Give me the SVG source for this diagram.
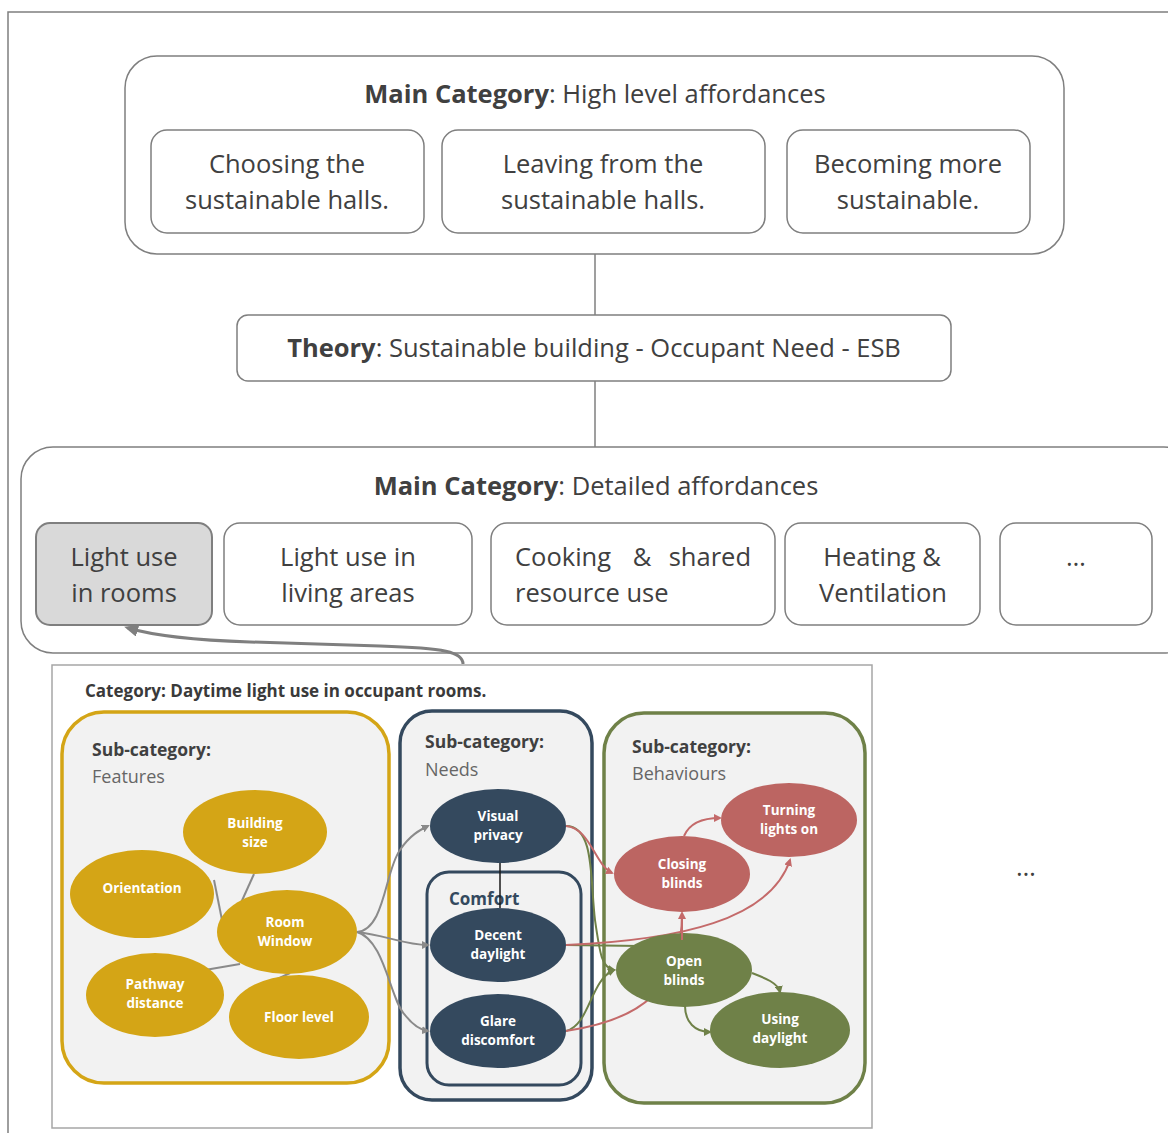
<svg xmlns="http://www.w3.org/2000/svg" width="1168" height="1133" viewBox="0 0 1168 1133">
<defs>
<style>
.box{fill:#fff;stroke:#7f7f7f;stroke-width:1.5}
.t{font-family:"Open Sans","Liberation Sans",sans-serif;font-size:25.5px;fill:#404040}
.tc{text-anchor:middle}
.b{font-weight:bold}
.sub{font-family:"Open Sans","Liberation Sans",sans-serif;font-size:17.5px;fill:#404040;font-weight:bold}
.sub2{font-family:"Open Sans","Liberation Sans",sans-serif;font-size:18px;fill:#666}
.el{font-family:"Open Sans","Liberation Sans",sans-serif;font-size:13.5px;fill:#fff;font-weight:bold;text-anchor:middle}
.gold{fill:#d4a516}
.navy{fill:#34495e}
.red{fill:#bc6562}
.grn{fill:#6f8148}
.gl{stroke:#8a8a8a;stroke-width:2;fill:none}
.rl{stroke:#c46a6a;stroke-width:2;fill:none}
.gnl{stroke:#6f8148;stroke-width:2;fill:none}
</style>
<marker id="ag" markerWidth="8" markerHeight="8" refX="6" refY="4" orient="auto" markerUnits="userSpaceOnUse"><path d="M0,0 L8,4 L0,8 z" fill="#8a8a8a"/></marker>
<marker id="ar" markerWidth="8" markerHeight="8" refX="6" refY="4" orient="auto" markerUnits="userSpaceOnUse"><path d="M0,0 L8,4 L0,8 z" fill="#c46a6a"/></marker>
<marker id="agn" markerWidth="8" markerHeight="8" refX="6" refY="4" orient="auto" markerUnits="userSpaceOnUse"><path d="M0,0 L8,4 L0,8 z" fill="#6f8148"/></marker>
<marker id="abig" markerWidth="14" markerHeight="12" refX="10" refY="6" orient="auto" markerUnits="userSpaceOnUse"><path d="M0,0 L14,6 L0,12 z" fill="#7f7f7f"/></marker>
</defs>
<rect width="1168" height="1133" fill="#fff"/>
<path d="M1168,12 L8,12 L8,1133" fill="none" stroke="#7f7f7f" stroke-width="1.5"/>

<g id="high-level">
<rect class="box" x="125" y="56" width="939" height="198" rx="32"/>
<text class="t tc" x="595" y="103"><tspan class="b">Main Category</tspan>: High level affordances</text>
</g>
<g id="choosing">
<rect class="box" x="151" y="130" width="273" height="103" rx="16"/>
<text class="t tc" x="287" y="173">Choosing the</text>
<text class="t tc" x="287" y="209">sustainable halls.</text>
</g>
<g id="leaving">
<rect class="box" x="442" y="130" width="323" height="103" rx="16"/>
<text class="t tc" x="603" y="173">Leaving from the</text>
<text class="t tc" x="603" y="209">sustainable halls.</text>
</g>
<g id="becoming">
<rect class="box" x="787" y="130" width="243" height="103" rx="16"/>
<text class="t tc" x="908" y="173">Becoming more</text>
<text class="t tc" x="908" y="209">sustainable.</text>
</g>

<g id="theory">
<rect class="box" x="237" y="315" width="714" height="66" rx="11"/>
<text class="t tc" x="594" y="357"><tspan class="b">Theory</tspan>: Sustainable building - Occupant Need - ESB</text>
</g>

<g id="detailed">
<rect class="box" x="21" y="447" width="1175" height="206" rx="32"/>
<text class="t tc" x="596" y="495"><tspan class="b">Main Category</tspan>: Detailed affordances</text>
</g>
<g id="light-rooms">
<rect x="36" y="523" width="176" height="102" rx="14" fill="#d9d9d9" stroke="#7f7f7f" stroke-width="2"/>
<text class="t tc" x="124" y="566">Light use</text>
<text class="t tc" x="124" y="602">in rooms</text>
</g>
<g id="light-living">
<rect class="box" x="224" y="523" width="248" height="102" rx="16"/>
<text class="t tc" x="348" y="566">Light use in</text>
<text class="t tc" x="348" y="602">living areas</text>
</g>
<g id="cooking">
<rect class="box" x="491" y="523" width="284" height="102" rx="16"/>
<text class="t" x="515" y="566">Cooking</text>
<text class="t tc" x="642" y="566">&amp;</text>
<text class="t" x="751" y="566" text-anchor="end">shared</text>
<text class="t" x="515" y="602">resource use</text>
</g>
<g id="heating">
<rect class="box" x="785" y="523" width="195" height="102" rx="16"/>
<text class="t tc" x="882" y="566">Heating &amp;</text>
<text class="t tc" x="883" y="602">Ventilation</text>
</g>
<g id="more">
<rect class="box" x="1000" y="523" width="152" height="102" rx="16"/>
<text class="t tc" x="1076" y="566">…</text>
</g>

<g id="connectors">
<line x1="595" y1="254" x2="595" y2="315" stroke="#7f7f7f" stroke-width="1.5"/>
<line x1="595" y1="381" x2="595" y2="447" stroke="#7f7f7f" stroke-width="1.5"/>
<path d="M463,664 C463,652 445,648 380,646 L250,642 C190,640 155,636 128,628" fill="none" stroke="#7f7f7f" stroke-width="3" marker-end="url(#abig)"/>
</g>

<text class="t" x="1016" y="876" font-size="20">…</text>

<g id="panel">
<rect x="52" y="665" width="820" height="463" fill="#fff" stroke="#a6a6a6" stroke-width="1.5"/>
<text x="85" y="697" font-family="'Open Sans','Liberation Sans',sans-serif" font-size="17" font-weight="bold" fill="#3a3a3a">Category: Daytime light use in occupant rooms.</text>

<rect x="62" y="712" width="327" height="371" rx="42" fill="#f2f2f2" stroke="#d4a516" stroke-width="3.5"/>
<rect x="400" y="711" width="192" height="389" rx="32" fill="#f2f2f2" stroke="#34495e" stroke-width="3.5"/>
<rect x="604" y="713" width="261" height="390" rx="40" fill="#f2f2f2" stroke="#6f8148" stroke-width="3.5"/>
<rect x="427" y="872" width="154" height="213" rx="22" fill="none" stroke="#34495e" stroke-width="3"/>

<text class="sub" x="92" y="756">Sub-category:</text>
<text class="sub2" x="92" y="783">Features</text>
<text class="sub" x="425" y="748">Sub-category:</text>
<text class="sub2" x="425" y="776">Needs</text>
<text class="sub" x="632" y="753">Sub-category:</text>
<text class="sub2" x="632" y="780">Behaviours</text>
<text x="449" y="905" font-family="'Open Sans','Liberation Sans',sans-serif" font-size="17" font-weight="bold" fill="#34495e">Comfort</text>
</g>

<g id="panel-connectors">
<line class="gl" x1="254" y1="874" x2="240" y2="905"/>
<line class="gl" x1="214" y1="880" x2="222" y2="920"/>
<line class="gl" x1="205" y1="970" x2="240" y2="964"/>
<line class="gl" x1="246" y1="994" x2="290" y2="973"/>
<path class="gl" d="M357,932 C385,930 385,870 400,850 C410,835 420,830 428,826" marker-end="url(#ag)"/>
<path class="gl" d="M357,932 C385,935 405,945 428,945" marker-end="url(#ag)"/>
<path class="gl" d="M357,932 C385,940 390,1000 405,1015 C412,1024 420,1030 428,1031" marker-end="url(#ag)"/>
<line x1="500" y1="863" x2="500" y2="908" stroke="#1a1a1a" stroke-width="1.5"/>
<path class="gnl" d="M566,826 C595,826 590,880 595,920 C600,955 602,968 614,970" marker-end="url(#agn)"/>
<path class="rl" d="M566,826 C590,828 595,865 612,873" marker-end="url(#ar)"/>
<path class="gnl" d="M566,945 L640,946"/>
<path class="rl" d="M566,945 C680,940 770,920 790,860" marker-end="url(#ar)"/>
<path class="gnl" d="M566,1031 C590,1025 590,980 614,970" marker-end="url(#agn)"/>
<path class="rl" d="M566,1031 C640,1020 682,990 682,913" marker-end="url(#ar)"/>
<path class="rl" d="M684,836 C690,822 705,818 720,818" marker-end="url(#ar)"/>
<path class="gnl" d="M752,973 C765,978 778,983 780,992" marker-end="url(#agn)"/>
<path class="gnl" d="M685,1006 C685,1022 695,1032 710,1032" marker-end="url(#agn)"/>
</g>

<g id="building-size"><ellipse class="gold" cx="255" cy="832" rx="72" ry="42"/><text class="el" x="255" y="828">Building</text><text class="el" x="255" y="847">size</text></g>
<g id="orientation"><ellipse class="gold" cx="142" cy="894" rx="72" ry="44"/><text class="el" x="142" y="893">Orientation</text></g>
<g id="room-window"><ellipse class="gold" cx="287" cy="932" rx="70" ry="42"/><text class="el" x="285" y="927">Room</text><text class="el" x="285" y="946">Window</text></g>
<g id="pathway"><ellipse class="gold" cx="155" cy="995" rx="69" ry="42"/><text class="el" x="155" y="989">Pathway</text><text class="el" x="155" y="1008">distance</text></g>
<g id="floor-level"><ellipse class="gold" cx="299" cy="1017" rx="70" ry="42"/><text class="el" x="299" y="1022">Floor level</text></g>

<g id="visual-privacy"><ellipse class="navy" cx="498" cy="826" rx="68" ry="37"/><text class="el" x="498" y="821">Visual</text><text class="el" x="498" y="840">privacy</text></g>
<g id="decent-daylight"><ellipse class="navy" cx="498" cy="945" rx="68" ry="37"/><text class="el" x="498" y="940">Decent</text><text class="el" x="498" y="959">daylight</text></g>
<g id="glare"><ellipse class="navy" cx="498" cy="1031" rx="68" ry="37"/><text class="el" x="498" y="1026">Glare</text><text class="el" x="498" y="1045">discomfort</text></g>

<g id="turning-lights"><ellipse class="red" cx="789" cy="820" rx="68" ry="37"/><text class="el" x="789" y="815">Turning</text><text class="el" x="789" y="834">lights on</text></g>
<g id="closing-blinds"><ellipse class="red" cx="682" cy="874" rx="68" ry="38"/><text class="el" x="682" y="869">Closing</text><text class="el" x="682" y="888">blinds</text></g>
<g id="open-blinds"><ellipse class="grn" cx="684" cy="970" rx="68" ry="37"/><text class="el" x="684" y="966">Open</text><text class="el" x="684" y="985">blinds</text></g>
<g id="using-daylight"><ellipse class="grn" cx="780" cy="1030" rx="70" ry="38"/><text class="el" x="780" y="1024">Using</text><text class="el" x="780" y="1043">daylight</text></g>

<path class="rl" d="M682,940 L682,913"/>
</svg>
